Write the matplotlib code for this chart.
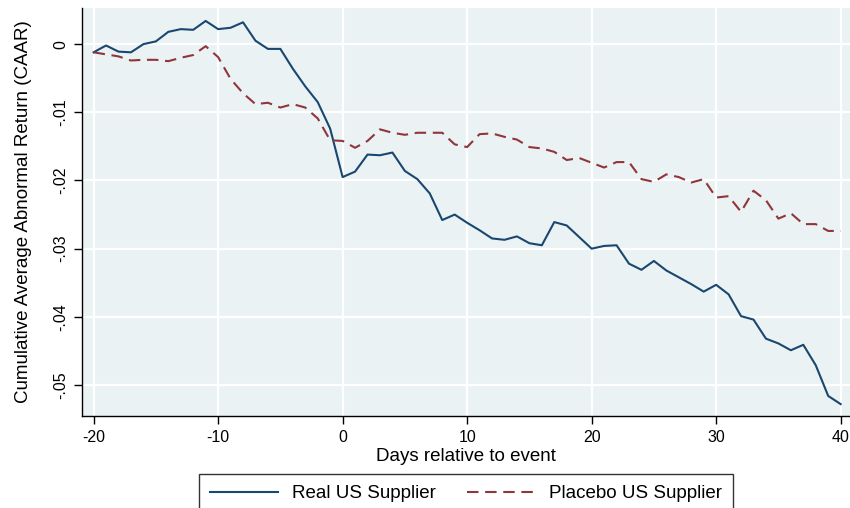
import numpy as np
import matplotlib.pyplot as plt

plt.rcParams['font.family'] = ['Liberation Sans', 'DejaVu Sans']
plt.rcParams['axes.unicode_minus'] = False

# event window
days = list(range(-20, 41))

# cumulative average abnormal returns
real = [-0.0012, -0.0002, -0.0011, -0.0012, -0.0000, 0.0004, 0.0018, 0.0022, 0.0021, 0.0034,
        0.0022, 0.0024, 0.0032, 0.0005, -0.0007, -0.0007, -0.0036, -0.0062, -0.0085, -0.0124,
        -0.0195, -0.0187, -0.0162, -0.0163, -0.0159, -0.0186, -0.0198, -0.0219, -0.0258, -0.0250,
        -0.0262, -0.0273, -0.0285, -0.0287, -0.0282, -0.0292, -0.0295, -0.0261, -0.0266, -0.0283,
        -0.0300, -0.0296, -0.0295, -0.0322, -0.0331, -0.0318, -0.0332, -0.0342, -0.0352, -0.0363,
        -0.0353, -0.0367, -0.0399, -0.0404, -0.0432, -0.0439, -0.0449, -0.0441, -0.0471, -0.0516,
        -0.0528]
placebo = [-0.0012, -0.0015, -0.0018, -0.0024, -0.0023, -0.0023, -0.0025, -0.0020, -0.0016, -0.0003,
           -0.0019, -0.0051, -0.0072, -0.0088, -0.0086, -0.0093, -0.0088, -0.0093, -0.0109, -0.0141,
           -0.0142, -0.0152, -0.0142, -0.0125, -0.0130, -0.0133, -0.0130, -0.0130, -0.0130, -0.0147,
           -0.0151, -0.0132, -0.0131, -0.0136, -0.0140, -0.0151, -0.0153, -0.0158, -0.0170, -0.0167,
           -0.0174, -0.0181, -0.0173, -0.0173, -0.0198, -0.0202, -0.0191, -0.0195, -0.0203, -0.0198,
           -0.0225, -0.0223, -0.0246, -0.0215, -0.0229, -0.0256, -0.0248, -0.0264, -0.0264, -0.0274,
           -0.0274]

xticks = [-20, -10, 0, 10, 20, 30, 40]
yticks = [0, -0.01, -0.02, -0.03, -0.04, -0.05]
ylabels = ['0', '-.01', '-.02', '-.03', '-.04', '-.05']

fig = plt.figure(figsize=(8.5, 5.08), dpi=100)
ax = fig.add_axes([0.0965, 0.181, 0.9035, 0.803])
ax.set_facecolor('#eaf2f3')

ax.plot(days, real, color='#1a476f', lw=1.5, label='Real US Supplier')
ax.plot(days, placebo, color='#90353b', lw=1.5, ls=(0, (5.5, 3.2)), label='Placebo US Supplier')

ax.set_xlim(-20.93, 40.75)
ax.set_ylim(-0.05455, 0.00528)
ax.set_xticks(xticks)
ax.set_yticks(yticks)
ax.set_yticklabels(ylabels, rotation=90, va='center')
ax.grid(True, color='white', lw=1.6)
ax.set_axisbelow(True)
for s in ['top', 'right']:
    ax.spines[s].set_visible(False)
for s in ['left', 'bottom']:
    ax.spines[s].set_color('black')
    ax.spines[s].set_linewidth(1.0)
ax.tick_params(direction='out', length=6, width=1, labelsize=11.5, colors='black', pad=4)

ax.set_xlabel('Days relative to event', fontsize=13.5, labelpad=2)
ax.set_ylabel('Cumulative Average Abnormal Return (CAAR)', fontsize=13.5, labelpad=15)

leg = fig.legend(loc='upper center', bbox_to_anchor=(466 / 850, 1 - 474 / 508), ncol=2,
                 borderaxespad=0, frameon=True, fancybox=False, fontsize=13.5,
                 handlelength=3.6, handletextpad=0.75, columnspacing=1.7, borderpad=0.6)
leg.get_frame().set_edgecolor('black')
leg.get_frame().set_linewidth(1.0)

fig.savefig('out.png', dpi=100, facecolor='white')
